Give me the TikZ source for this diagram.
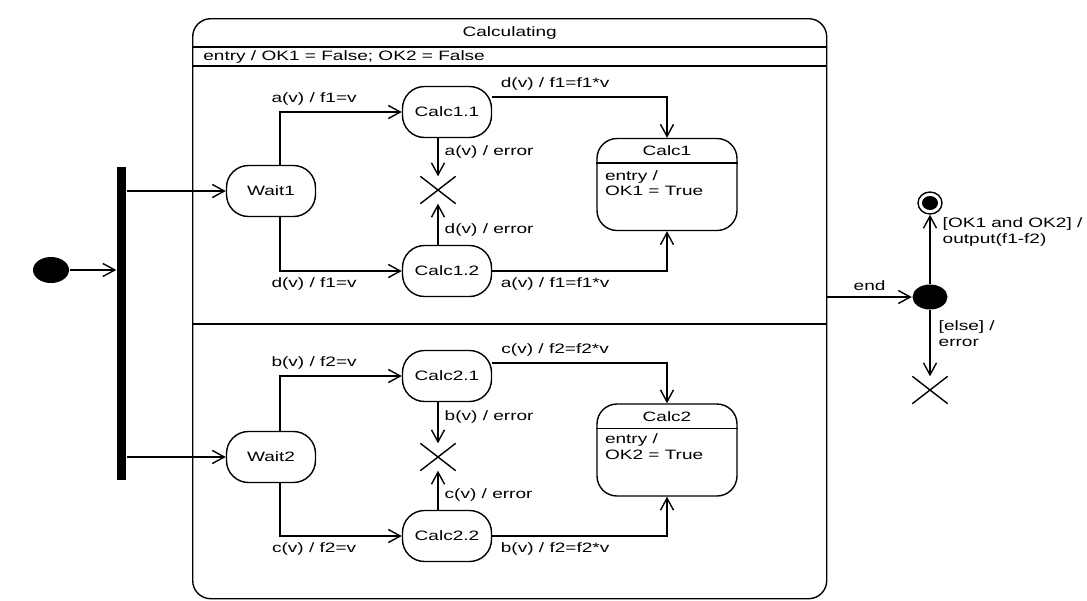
\documentclass[tikz,border=0pt]{standalone}
\usepackage{fontspec}
\setmainfont{Liberation Sans}[FakeStretch=1.4]
\usepackage{tikz}
\usetikzlibrary{positioning, arrows.meta, shapes.geometric, shapes.misc, calc}

\begin{document}
\begin{tikzpicture}[
    x=0.5pt, y=-0.5pt,
    font=\fontsize{6.8}{7.8}\selectfont,
    line width=0.7pt,
    state/.style={draw, rounded corners=11pt, minimum width=44.5pt, minimum height=25.5pt, inner sep=0pt, text centered},
    calcbox/.style={draw, rounded corners=10pt, minimum width=70pt, minimum height=46pt, inner sep=0pt},
    dot/.style={ellipse, fill, inner sep=0pt, minimum width=17.5pt, minimum height=12.5pt},
    kill/.style={cross out, draw, inner sep=0pt, minimum width=17pt, minimum height=13pt},
    lbl/.style={inner sep=3pt},
    arr/.style={-{Straight Barb[length=6pt, width=6.5pt]}}
]
\useasboundingbox (0,0) rectangle (1087,600);

% Composite state
\node[draw, rounded corners=9pt, minimum width=317pt, minimum height=290pt, inner sep=0pt, anchor=north west] (calc) at (192,18) {};
\node (calcname) at (calc.north |- 0,33) {Calculating};
\draw (calc.west |- 0,47) -- (calc.east |- 0,47);
\node[anchor=west] (calcentry) at (196,56.5) {entry / OK1 = False; OK2 = False};
\draw (calc.west |- 0,66) -- (calc.east |- 0,66);
\draw (calc.west |- 0,324) -- (calc.east |- 0,324);

% Start and fork
\node[dot, minimum width=18pt, minimum height=13pt] (init) at (51,270) {};
\node[fill, inner sep=0pt, minimum width=4.5pt, minimum height=156.5pt] (fork) at (121.5,323.5) {};

% Upper region
\node[state] (wait1) at (271,191) {Wait1};
\node[state] (calc11) at (447,112) {Calc1.1};
\node[state] (calc12) at (447,271) {Calc1.2};
\node[kill] (x1) at (438,190) {};
\node[calcbox] (calc1) at (667,184.5) {};
\node[inner sep=0pt] (calc1name) at ($(calc1.north)+(0,13)$) {Calc1};
\draw ([yshift=-12.5pt]calc1.north west) -- ([yshift=-12.5pt]calc1.north east);
\node[anchor=north west, align=left, inner sep=0pt] (calc1body) at ($(calc1.north west)+(8,32)$) {entry /\\OK1 = True};

% Lower region
\node[state] (wait2) at (271,457) {Wait2};
\node[state] (calc21) at (447,376) {Calc2.1};
\node[state] (calc22) at (447,536) {Calc2.2};
\node[kill] (x2) at (438,457) {};
\node[calcbox] (calc2) at (667,450) {};
\node[inner sep=0pt] (calc2name) at ($(calc2.north)+(0,13)$) {Calc2};
\draw ([yshift=-12.5pt]calc2.north west) -- ([yshift=-12.5pt]calc2.north east);
\node[anchor=north west, align=left, inner sep=0pt] (calc2body) at ($(calc2.north west)+(8,30)$) {entry /\\OK2 = True};

% Outside
\node[dot] (decide) at (930,297) {};
\node[draw, ellipse, inner sep=0pt, minimum width=12pt, minimum height=11pt] (final) at (930,203) {};
\node[dot, minimum width=8pt, minimum height=7pt] (finaldot) at (final) {};
\node[kill] (x3) at (930,390) {};

% Arrows
\draw[arr] (init) -- (init -| fork.west);
\draw[arr] (fork.east |- wait1) -- (wait1.west);
\draw[arr] (fork.east |- wait2) -- (wait2.west);

\draw[arr] ([xshift=4.5pt]wait1.north) |- node[lbl, above, pos=0.64] {a(v) / f1=v} (calc11.west);
\draw[arr] ([xshift=4.5pt]wait1.south) |- node[lbl, below, pos=0.64] {d(v) / f1=v} (calc12.west);
\draw[arr] (calc11.south -| x1) -- node[lbl, right, pos=0.35] {a(v) / error} (x1.north);
\draw[arr] (calc12.north -| x1) -- node[lbl, right, pos=0.36] {d(v) / error} (x1.south);
\draw[arr] ([yshift=7.5pt]calc11.east) -| node[lbl, above, pos=0.18] {d(v) / f1=f1*v} (calc1.north);
\draw[arr] (calc12.east) -| node[lbl, below, pos=0.18] {a(v) / f1=f1*v} (calc1.south);

\draw[arr] ([xshift=4.5pt]wait2.north) |- node[lbl, above, pos=0.64] {b(v) / f2=v} (calc21.west);
\draw[arr] ([xshift=4.5pt]wait2.south) |- node[lbl, below, pos=0.64] {c(v) / f2=v} (calc22.west);
\draw[arr] (calc21.south -| x2) -- node[lbl, right, pos=0.35] {b(v) / error} (x2.north);
\draw[arr] (calc22.north -| x2) -- node[lbl, right, pos=0.37] {c(v) / error} (x2.south);
\draw[arr] ([yshift=6.5pt]calc21.east) -| node[lbl, above, pos=0.18] {c(v) / f2=f2*v} (calc2.north);
\draw[arr] (calc22.east) -| node[lbl, below, pos=0.18] {b(v) / f2=f2*v} (calc2.south);

\draw[arr] (calc.east |- decide) -- node[lbl, above] {end} (decide);
\draw[arr] (decide) -- node[lbl, right, align=left, pos=0.75, xshift=3pt] {[OK1 and OK2] /\\output(f1-f2)} (final);
\draw[arr] (decide) -- node[lbl, right, align=left, pos=0.35, xshift=1pt] {[else] /\\error} (x3.north);

\end{tikzpicture}
\end{document}
